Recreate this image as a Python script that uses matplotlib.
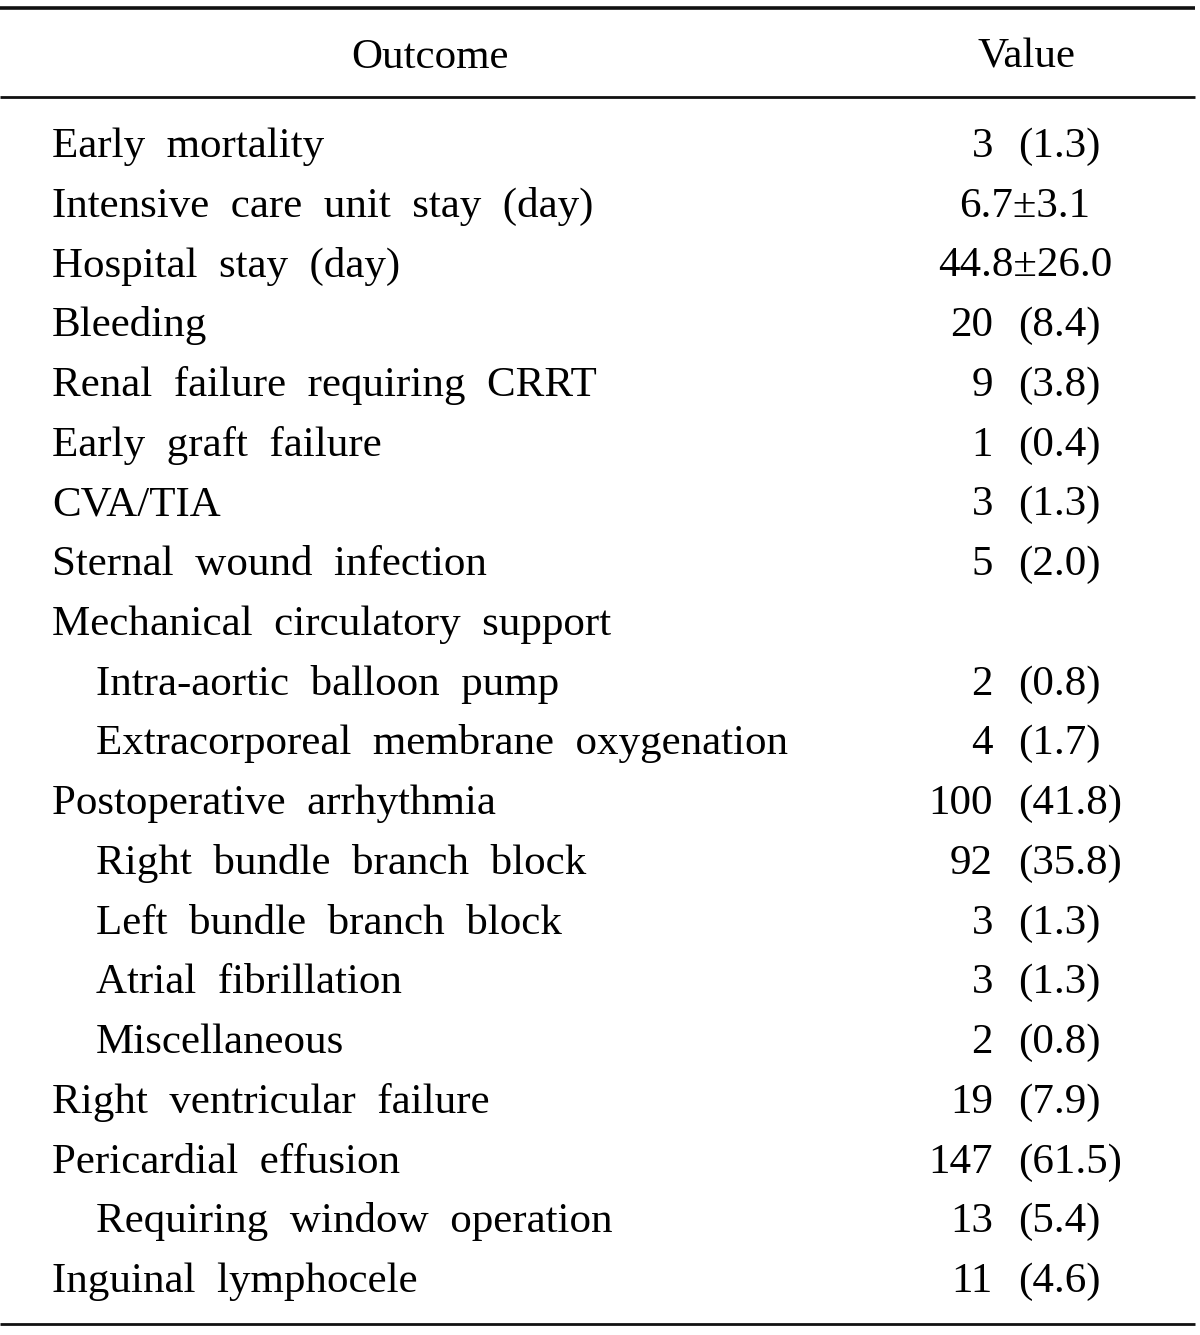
import matplotlib
matplotlib.use("Agg")
import matplotlib.pyplot as plt

plt.rcParams['font.family'] = ['Liberation Serif', 'DejaVu Serif']

header_outcome = "Outcome"
header_value = "Value"

outcomes = [
    "Early mortality",
    "Intensive care unit stay (day)",
    "Hospital stay (day)",
    "Bleeding",
    "Renal failure requiring CRRT",
    "Early graft failure",
    "CVA/TIA",
    "Sternal wound infection",
    "Mechanical circulatory support",
    "Intra-aortic balloon pump",
    "Extracorporeal membrane oxygenation",
    "Postoperative arrhythmia",
    "Right bundle branch block",
    "Left bundle branch block",
    "Atrial fibrillation",
    "Miscellaneous",
    "Right ventricular failure",
    "Pericardial effusion",
    "Requiring window operation",
    "Inguinal lymphocele",
]
indent = [0, 0, 0, 0, 0, 0, 0, 0, 0, 1, 1, 0, 1, 1, 1, 1, 0, 0, 1, 0]
counts = ["3", None, None, "20", "9", "1", "3", "5", None, "2", "4",
          "100", "92", "3", "3", "2", "19", "147", "13", "11"]
percents = ["(1.3)", None, None, "(8.4)", "(3.8)", "(0.4)", "(1.3)", "(2.0)", None,
            "(0.8)", "(1.7)", "(41.8)", "(35.8)", "(1.3)", "(1.3)", "(0.8)",
            "(7.9)", "(61.5)", "(5.4)", "(4.6)"]
mean_sd = [None, "6.7\u00b13.1", "44.8\u00b126.0", None, None, None, None, None, None,
           None, None, None, None, None, None, None, None, None, None, None]

W, H = 1200, 1335
fig = plt.figure(figsize=(W / 100, H / 100), dpi=100)
ax = fig.add_axes([0, 0, 1, 1])
ax.set_xlim(0, W)
ax.set_ylim(H, 0)
ax.axis('off')

fs = 31
lc = '#111111'
ax.plot([0, 1195], [7.5, 7.5], color=lc, lw=2.6, solid_capstyle='butt')
ax.plot([0, 1195], [97, 97], color=lc, lw=2.0, solid_capstyle='butt')
ax.plot([0, 1195], [1323.5, 1323.5], color=lc, lw=2.0, solid_capstyle='butt')

ax.text(430, 68, header_outcome, fontsize=fs, ha='center', va='baseline')
ax.text(1027, 68, header_value, fontsize=fs, ha='center', va='baseline')

y0, step = 157, 59.74
for i, name in enumerate(outcomes):
    y = y0 + i * step
    x = 96 if indent[i] else 52
    ax.text(x, y, "  ".join(name.split(" ")), fontsize=fs, ha='left', va='baseline')
    if counts[i] is not None:
        ax.text(993, y, counts[i], fontsize=fs, ha='right', va='baseline')
        ax.text(1018, y, percents[i], fontsize=fs, ha='left', va='baseline')
    elif mean_sd[i] is not None:
        ax.text(1025, y, mean_sd[i], fontsize=fs, ha='center', va='baseline')

fig.savefig("out.png", dpi=100, facecolor='white')
